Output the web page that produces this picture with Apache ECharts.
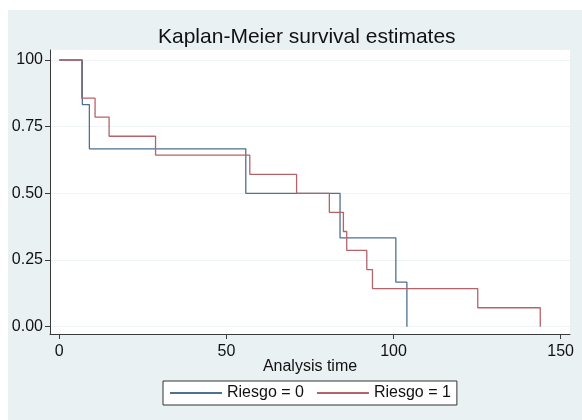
<!DOCTYPE html>
<html>
<head>
<meta charset="utf-8">
<script src="https://cdn.jsdelivr.net/npm/echarts@6/dist/echarts.min.js"></script>
<style>
  html, body { margin: 0; padding: 0; background: #fff; }
  #container { width: 582px; height: 420px; }
</style>
</head>
<body>
<div id="container"></div>
<script>
// survival curves
var timeRiesgo0 = [0, 6.9, 9.0, 55.8, 84.0, 100.7, 104.0];
var survRiesgo0 = [1, 0.833, 0.667, 0.5, 0.333, 0.167, 0];

var timeRiesgo1 = [0, 6.7, 10.7, 14.9, 28.8, 57.0, 71.0, 80.8, 85.0, 86.0, 92.0, 93.7, 125.2, 143.9];
var survRiesgo1 = [1, 0.857, 0.786, 0.714, 0.643, 0.571, 0.5, 0.429, 0.357, 0.286, 0.214, 0.143, 0.071, 0];

var xTicks = [0, 50, 100, 150];
var yTicks = [0, 0.25, 0.5, 0.75, 1];
var yTickLabels = ['0.00', '0.25', '0.50', '0.75', '100'];

function pairs(t, s) {
  var out = [];
  for (var i = 0; i < t.length; i++) out.push([t[i], s[i]]);
  return out;
}

var dom = document.getElementById('container');
var myChart = echarts.init(dom);
var font = 'Liberation Sans, Arial, sans-serif';
var axisCol = '#3a3a3a';

var option = {
  animation: false,
  backgroundColor: '#fff',
  textStyle: { fontFamily: font },
  graphic: [
    { type: 'rect', z: -10, shape: { x: 8, y: 10, width: 574, height: 410 }, style: { fill: '#eaf1f3' } }
  ],
  title: {
    text: 'Kaplan-Meier survival estimates',
    left: 153,
    top: 22,
    padding: 5,
    textStyle: { fontSize: 21, fontWeight: 'normal', color: '#111', fontFamily: font }
  },
  grid: {
    left: 50, right: 12, top: 50, bottom: 86,
    show: true, backgroundColor: '#fff', borderWidth: 0
  },
  xAxis: {
    type: 'value',
    min: -2.78,
    max: 152.8,
    name: 'Analysis time',
    nameLocation: 'middle',
    nameGap: 25,
    nameMoveOverlap: false,
    nameTextStyle: { fontSize: 16, color: '#111', fontFamily: font },
    axisLine: { onZero: false, lineStyle: { color: axisCol, width: 1 } },
    axisTick: { show: true, length: 5, customValues: xTicks, lineStyle: { color: axisCol } },
    axisLabel: { customValues: xTicks, margin: 10, fontSize: 16, color: '#111', fontFamily: font },
    splitLine: { show: false }
  },
  yAxis: {
    type: 'value',
    min: -0.0274,
    max: 1.0375,
    axisLine: { show: true, onZero: false, lineStyle: { color: axisCol, width: 1 } },
    axisTick: { show: true, length: 5, customValues: yTicks, lineStyle: { color: axisCol } },
    axisLabel: {
      customValues: yTicks,
      margin: 7,
      fontSize: 16,
      color: '#111',
      fontFamily: font,
      formatter: function (v) {
        var i = yTicks.indexOf(v);
        return i >= 0 ? yTickLabels[i] : '';
      }
    },
    splitLine: { show: true, lineStyle: { color: '#eef3f5', width: 1 } }
  },
  legend: {
    left: 163,
    top: 381,
    orient: 'horizontal',
    padding: [4, 6],
    itemGap: 12,
    itemWidth: 52,
    itemHeight: 14,
    borderColor: '#333',
    borderWidth: 1,
    backgroundColor: '#fff',
    itemStyle: { opacity: 0 },
    textStyle: { fontSize: 16, color: '#111', fontFamily: font },
    data: ['Riesgo = 0', 'Riesgo = 1']
  },
  series: [
    {
      name: 'Riesgo = 0',
      type: 'line',
      step: 'end',
      symbol: 'none',
      color: '#4f7091',
      lineStyle: { width: 1.3, color: '#4f7091' },
      data: pairs(timeRiesgo0, survRiesgo0)
    },
    {
      name: 'Riesgo = 1',
      type: 'line',
      step: 'end',
      symbol: 'none',
      color: '#b5636a',
      lineStyle: { width: 1.3, color: '#b5636a' },
      data: pairs(timeRiesgo1, survRiesgo1)
    }
  ]
};
if (option && typeof option === 'object') {
  myChart.setOption(option, true);
}
</script>
</body>
</html>
